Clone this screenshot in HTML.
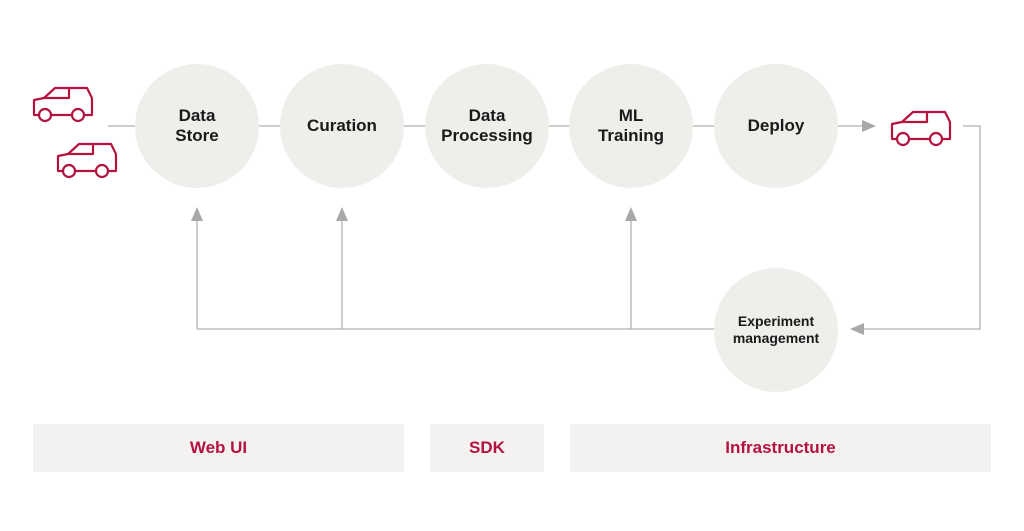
<!DOCTYPE html>
<html><head><style>
body{margin:0;width:1024px;height:531px;background:#fff;overflow:hidden;position:relative;font-family:"Liberation Sans",sans-serif}
.c{position:absolute;width:124px;height:124px;border-radius:50%;background:#efeeeb;display:flex;align-items:center;justify-content:center;text-align:center;font-weight:bold;font-size:17px;line-height:20px;color:#1a1a1a}
.b{position:absolute;top:424px;height:48px;background:#f3f2f0;color:#b5123f;font-weight:bold;font-size:17px;display:flex;align-items:center;justify-content:center}
svg{position:absolute;left:0;top:0}
</style></head><body>
<svg width="1024" height="531">
<g stroke="#b0b0b0" stroke-width="1.3" fill="none">
<line x1="108" y1="126" x2="862" y2="126"/>
<polyline points="963,126 980,126 980,329 862,329"/>
<line x1="197" y1="329" x2="714" y2="329"/>
<line x1="197" y1="329" x2="197" y2="218"/>
<line x1="342" y1="329" x2="342" y2="218"/>
<line x1="631" y1="329" x2="631" y2="218"/>
</g>
<g fill="#a8a8a8">
<polygon points="862,120 876,126 862,132"/>
<polygon points="864,323 850,329 864,335"/>
<polygon points="191,221 197,207 203,221"/>
<polygon points="336,221 342,207 348,221"/>
<polygon points="625,221 631,207 637,221"/>
</g>
<defs><g id="car" stroke="#b5123f" stroke-width="2.2" fill="none" stroke-linejoin="round">
<path d="M7,29 H2 V14 L12,12 L23,2 H55 L60,12 V29 H53 M19,29 H39"/>
<path d="M12,12 H37 V2"/>
<circle cx="13" cy="29" r="6"/><circle cx="46" cy="29" r="6"/>
</g></defs>
<use href="#car" x="32" y="86"/>
<use href="#car" x="56" y="142"/>
<use href="#car" x="890" y="110"/>
</svg>
<div class="c" style="left:135px;top:64px">Data<br>Store</div>
<div class="c" style="left:280px;top:64px">Curation</div>
<div class="c" style="left:425px;top:64px">Data<br>Processing</div>
<div class="c" style="left:569px;top:64px">ML<br>Training</div>
<div class="c" style="left:714px;top:64px">Deploy</div>
<div class="c" style="left:714px;top:268px;font-size:14px;line-height:17px">Experiment<br>management</div>
<div class="b" style="left:33px;width:371px">Web UI</div>
<div class="b" style="left:430px;width:114px">SDK</div>
<div class="b" style="left:570px;width:421px">Infrastructure</div>
</body></html>
